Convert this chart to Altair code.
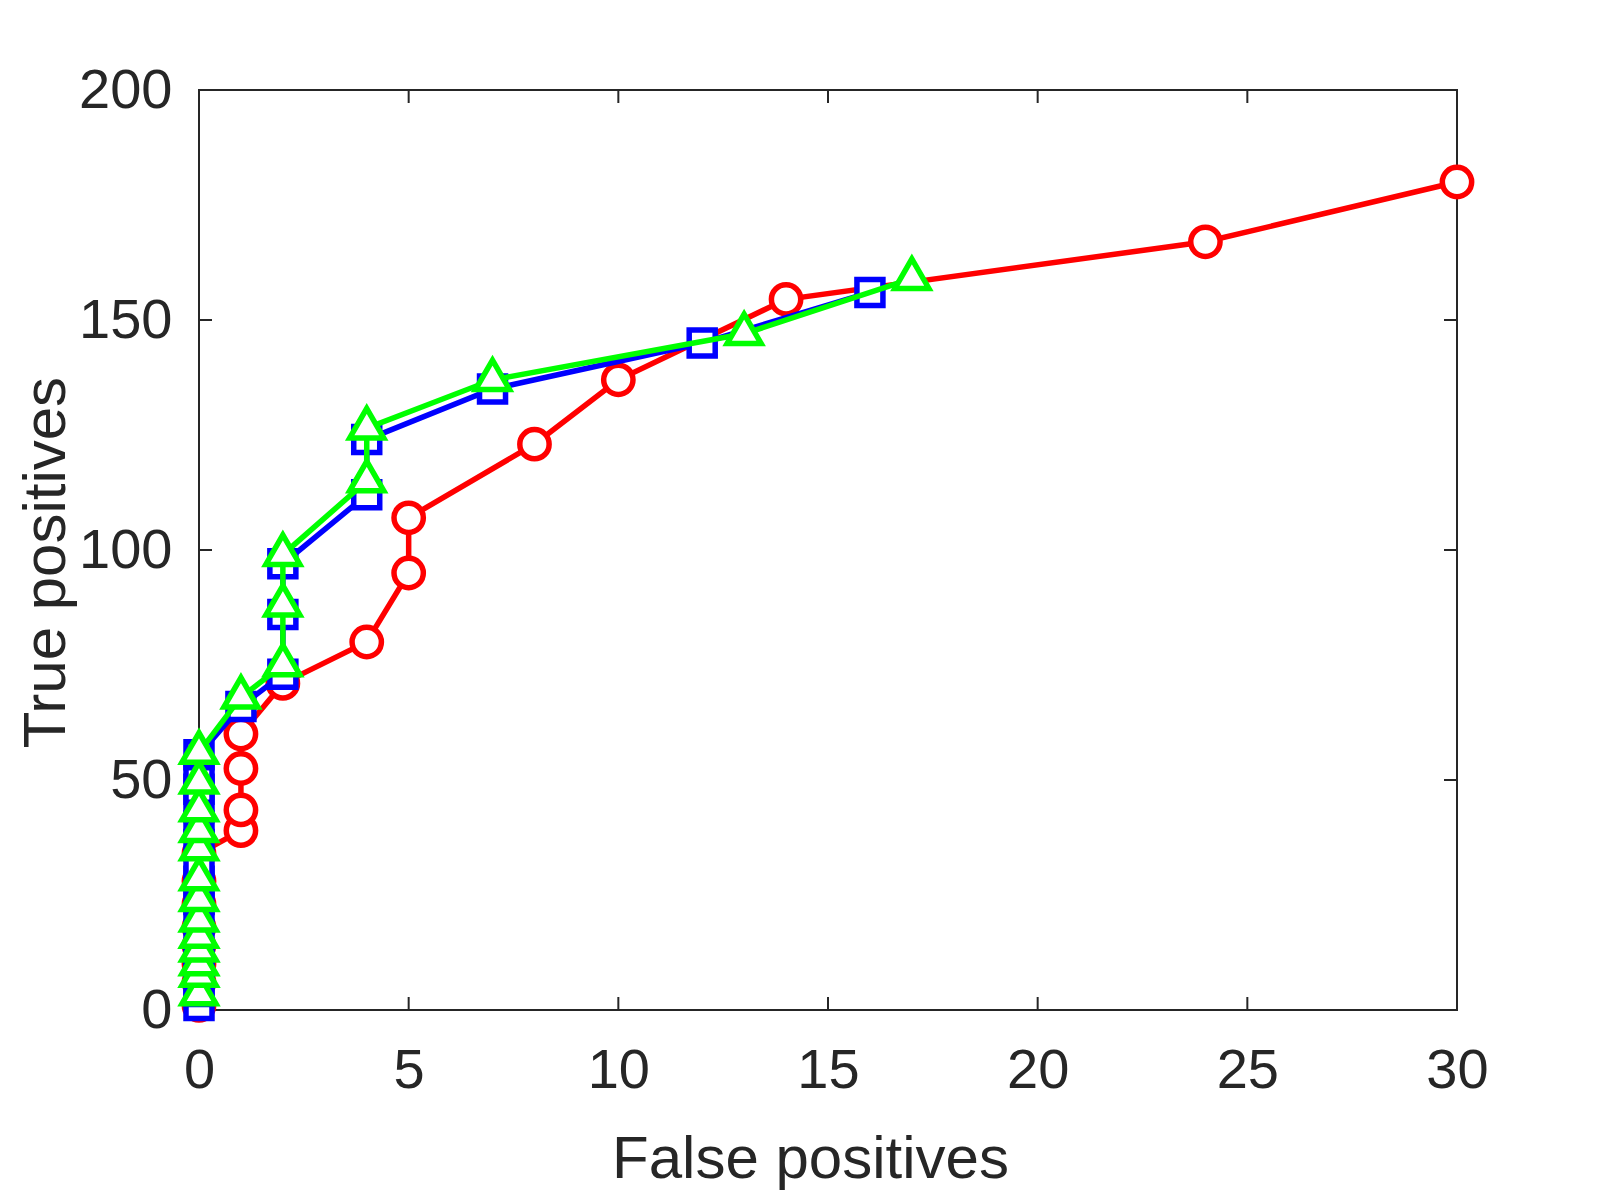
import altair as alt
import pandas as pd

# ---- data ----
red_x = [0, 0, 0, 0, 0, 0, 0, 0, 1, 1, 1, 1, 2, 4, 5, 5, 8, 10, 14, 24, 30]
red_y = [1, 6, 10, 14, 18, 23, 28, 34, 39, 43.5, 52.5, 60, 71, 80, 95, 107, 123, 137, 154.5, 167, 180]

blue_x = [0, 0, 0, 0, 0, 0, 0, 0, 0, 0, 0, 0, 0, 0, 0, 1, 2, 2, 2, 4, 4, 7, 12, 16]
blue_y = [1, 4, 8, 12, 16, 20, 24, 28, 32, 36, 40, 44, 48, 52, 55.5, 66, 73, 86, 97, 112, 124, 135, 145, 156]

green_x = [0, 0, 0, 0, 0, 0, 0, 0, 0, 0, 0, 0, 0, 1, 2, 2, 2, 4, 4, 7, 13, 17]
green_y = [3.5, 7.5, 10, 13, 16, 19.5, 24, 28.5, 35, 39, 43.5, 49.5, 56, 68, 75, 88, 99, 115, 126.5, 137, 147, 159]

x_ticks = [0, 5, 10, 15, 20, 25, 30]
y_ticks = [0, 50, 100, 150, 200]

W, H = 1258, 920
FONT = "Liberation Sans"
TXT = "#262626"
LW = 5.5


def frame(xs, ys):
    return pd.DataFrame({"x": xs, "y": ys, "i": list(range(len(xs)))})


x_scale = alt.Scale(domain=[0, 30], nice=False, zero=False)
y_scale = alt.Scale(domain=[0, 200], nice=False, zero=False)

x_axis = alt.Axis(
    values=x_ticks, ticks=False, tickSize=0, domain=False, grid=False,
    labelFont=FONT, labelFontSize=56, labelColor=TXT, labelPadding=77,
    labelBaseline="alphabetic", labelFlush=False,
    title="False positives", titleFont=FONT, titleFontSize=60,
    titleFontWeight="normal", titleColor=TXT, titleBaseline="alphabetic",
    titleX=611, titleY=167, titleAlign="center",
)
y_axis = alt.Axis(
    values=y_ticks, ticks=False, tickSize=0, domain=False, grid=False,
    labelFont=FONT, labelFontSize=56, labelColor=TXT, labelPadding=27,
    labelAlign="right", labelBaseline="middle", labelFlush=False,
    title="True positives", titleFont=FONT, titleFontSize=60,
    titleFontWeight="normal", titleColor=TXT, titleBaseline="alphabetic",
    titleAngle=270, titleX=-135, titleY=472, titleAlign="center",
)

X = alt.X("x:Q", scale=x_scale, axis=x_axis)
Y = alt.Y("y:Q", scale=y_scale, axis=y_axis)

xt = pd.DataFrame({"x": x_ticks})
yt = pd.DataFrame({"y": y_ticks})
tick_style = dict(color=TXT, strokeWidth=2)

ticks_bottom = alt.Chart(xt).mark_rule(**tick_style).encode(
    x=X, y=alt.value(H), y2=alt.value(H - 13))
ticks_top = alt.Chart(xt).mark_rule(**tick_style).encode(
    x=X, y=alt.value(0), y2=alt.value(13))
ticks_left = alt.Chart(yt).mark_rule(**tick_style).encode(
    y=Y, x=alt.value(0), x2=alt.value(13))
ticks_right = alt.Chart(yt).mark_rule(**tick_style).encode(
    y=Y, x=alt.value(W), x2=alt.value(W - 13))

tri_path = "M0,-1.155L-1,0.577L1,0.577Z"


def series(xs, ys, color, shape, size):
    df = frame(xs, ys)
    line = alt.Chart(df).mark_line(color=color, strokeWidth=LW).encode(
        x=X, y=Y, order=alt.Order("i:Q"))
    pts = alt.Chart(df).mark_point(
        shape=shape, size=size, filled=False, fill="white", fillOpacity=1,
        stroke=color, strokeWidth=LW, opacity=1,
    ).encode(x=X, y=Y)
    return [line, pts]


layers = [ticks_bottom, ticks_top, ticks_left, ticks_right]
layers += series(red_x, red_y, "#ff0000", "circle", 860)
layers += series(blue_x, blue_y, "#0000ff", "square", 676)
layers += series(green_x, green_y, "#00ff00", tri_path, 1156)

chart = alt.layer(*layers).properties(
    width=W, height=H,
    autosize=alt.AutoSizeParams(type="none"),
    padding={"left": 191, "top": 82, "right": 140, "bottom": 181},
    background="white",
).configure_view(stroke=TXT, strokeWidth=2)

chart.save("out.html", embed_options={"renderer": "svg", "actions": False})
